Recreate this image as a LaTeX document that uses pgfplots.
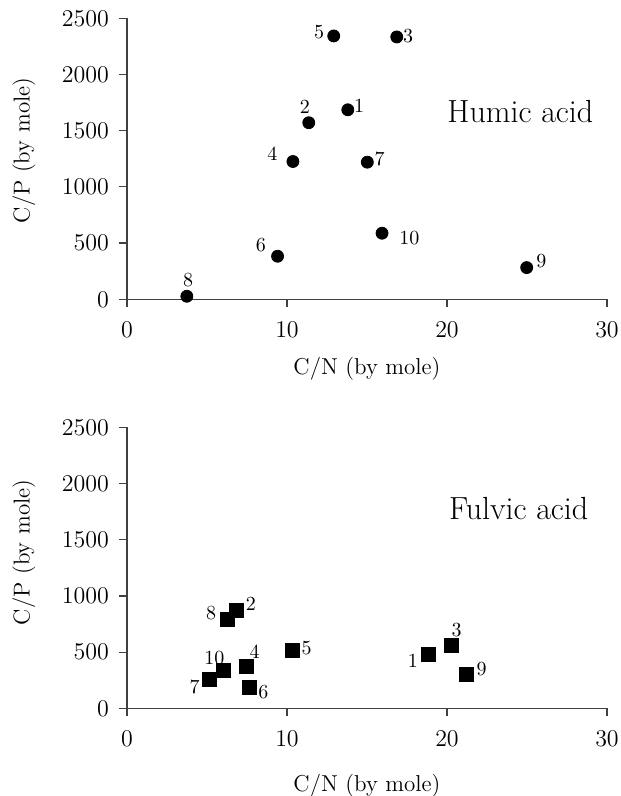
\documentclass[border=0pt]{standalone}
\usepackage{pgfplots}
\pgfplotsset{compat=1.18}
\newcommand\lab[4]{\node[font=\fontsize{10}{12}\selectfont, inner sep=0pt] at ([xshift=#2pt,yshift=#3pt]axis cs:#1) {#4};}
\begin{document}
\begin{tikzpicture}[x=1pt,y=1pt]
\useasboundingbox (-63.5,149.65) rectangle (246.5,-248.35);
\pgfplotsset{
 myax/.style={
  scale only axis, width=240pt, height=140.5pt,
  xmin=0,xmax=30,ymin=0,ymax=2500,
  axis lines=left, axis line style={-, black!75, line width=0.6pt},
  tick style={black!75, line width=0.6pt},
  tick align=outside, major tick length=4pt,
  xtick={0,10,20,30}, ytick={0,500,...,2500},
  tick label style={font=\fontsize{12}{14}\selectfont},
  xticklabel style={yshift=-4pt},
  yticklabel style={xshift=-1.5pt},
  label style={font=\fontsize{11.5}{13}\selectfont, inner sep=0pt},
  xlabel={C/N (by mole)}, ylabel={C/P (by mole)},
  xlabel style={at={(axis description cs:0.5,-0.2456)},anchor=center},
  ylabel style={at={(axis description cs:-0.215,0.53)},anchor=center},
  clip=false, scaled ticks=false,
  /pgf/number format/set thousands separator={},
 }
}
\begin{axis}[myax, at={(0pt,0pt)}, anchor=south west]
\addplot[only marks, mark=*, mark size=3pt, black] coordinates {
(13.8,1686) (11.36,1571) (16.86,2334) (10.37,1226) (12.92,2343)
(9.41,383) (15.02,1220) (3.74,27) (24.98,282) (15.94,588)};
\lab{13.8,1686}{5.7}{1.9}{1}
\lab{11.36,1571}{-2}{7.8}{2}
\lab{16.86,2334}{5.7}{0.5}{3}
\lab{10.37,1226}{-10.3}{3.7}{4}
\lab{12.92,2343}{-7.3}{2}{5}
\lab{9.41,383}{-8.3}{5.6}{6}
\lab{15.02,1220}{6.1}{1.7}{7}
\lab{3.74,27}{0.6}{8.1}{8}
\lab{24.98,282}{7.3}{3.4}{9}
\lab{15.94,588}{13.7}{-2.2}{10}
\node[anchor=west, inner sep=0pt, font=\fontsize{16}{19}\selectfont] at (axis cs:20,1670) {Humic acid};
\end{axis}
\begin{axis}[myax, at={(0pt,-204.5pt)}, anchor=south west,
  xlabel style={at={(axis description cs:0.5,-0.274)}},
  ylabel style={at={(axis description cs:-0.215,0.555)}}]
\addplot[only marks, mark=square*, mark size=3.5pt, black] coordinates {
(18.84,481) (6.86,873) (20.30,558) (7.48,377) (10.32,514)
(7.62,187) (5.12,261) (6.26,793) (21.21,306) (6.04,333)};
\lab{18.84,481}{-7.8}{-3.2}{1}
\lab{6.86,873}{7}{3.2}{2}
\lab{20.30,558}{2.4}{8}{3}
\lab{7.48,377}{4}{7}{4}
\lab{10.32,514}{7.2}{1.2}{5}
\lab{7.62,187}{7.2}{-2.5}{6}
\lab{5.12,261}{-7.2}{-3.9}{7}
\lab{6.26,793}{-8}{3}{8}
\lab{21.21,306}{7.6}{2.4}{9}
\lab{6.04,333}{-4.6}{6.4}{10}
\node[anchor=west, inner sep=0pt, font=\fontsize{16}{19}\selectfont] at (axis cs:20.1,1780) {Fulvic acid};
\end{axis}
\end{tikzpicture}
\end{document}
